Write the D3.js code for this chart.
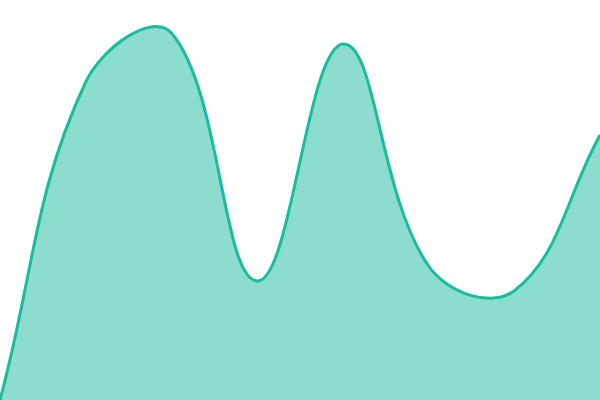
<!DOCTYPE html>
<html>
<head>
<meta charset="utf-8">
<script src="https://cdn.jsdelivr.net/npm/d3@7"></script>
<style>
  html, body { margin: 0; padding: 0; background: #fff; }
  svg { display: block; }
</style>
</head>
<body>
<svg id="chart" width="600" height="400"></svg>
<script>
// Sample positions and values
const categories = [0, 1, 2, 3, 4, 5, 6, 7]
const values = [0, 79.5, 91.75, 29.75, 89, 33.5, 27.3, 66.25]

const svg = d3.select('#chart')
const width = 600
const height = 400
const tension = 0.4

const x = d3.scaleLinear()
  .domain(d3.extent(categories))
  .range([0, width])

const y = d3.scaleLinear()
  .domain([0, 100])
  .range([height, 0])

const data = categories.map((c, i) => ({ c, v: values[i] }))

// ------------------
// Tension spline curve (distance weighted control points,
// capped to the plot area)
// ------------------
function splineCurve(context) {
  let pts
  const clampX = v => Math.max(0, Math.min(width, v))
  const clampY = v => Math.max(0, Math.min(height, v))
  return {
    areaStart() {},
    areaEnd() {},
    lineStart() { pts = [] },
    point(px, py) { pts.push([+px, +py]) },
    lineEnd() {
      const n = pts.length
      if (!n) return
      const cps = pts.map((cur, i) => {
        const prev = pts[i - 1] || cur
        const next = pts[i + 1] || cur
        const d01 = Math.hypot(cur[0] - prev[0], cur[1] - prev[1])
        const d12 = Math.hypot(next[0] - cur[0], next[1] - cur[1])
        let s01 = d01 / (d01 + d12)
        let s12 = d12 / (d01 + d12)
        if (!isFinite(s01)) s01 = 0
        if (!isFinite(s12)) s12 = 0
        const fa = tension * s01
        const fb = tension * s12
        const dx = next[0] - prev[0]
        const dy = next[1] - prev[1]
        return {
          prev: [clampX(cur[0] - fa * dx), clampY(cur[1] - fa * dy)],
          next: [clampX(cur[0] + fb * dx), clampY(cur[1] + fb * dy)]
        }
      })
      context.moveTo(pts[0][0], pts[0][1])
      for (let i = 1; i < n; i++) {
        const a = cps[i - 1].next
        const b = cps[i].prev
        context.bezierCurveTo(a[0], a[1], b[0], b[1], pts[i][0], pts[i][1])
      }
    }
  }
}

const line = d3.line()
  .x(d => x(d.c))
  .y(d => y(d.v))
  .curve(splineCurve)

const linePath = line(data)
const first = data[0]
const last = data[data.length - 1]

// ------------------
// Area + line
// ------------------
svg.append('path')
  .attr('d', `${linePath}L${x(last.c)},${y(0)}L${x(first.c)},${y(0)}Z`)
  .attr('fill', 'rgba(26, 188, 156, 0.5)')

svg.append('path')
  .attr('d', linePath)
  .attr('fill', 'none')
  .attr('stroke', '#1abc9c')
  .attr('stroke-width', 3)
</script>
</body>
</html>
